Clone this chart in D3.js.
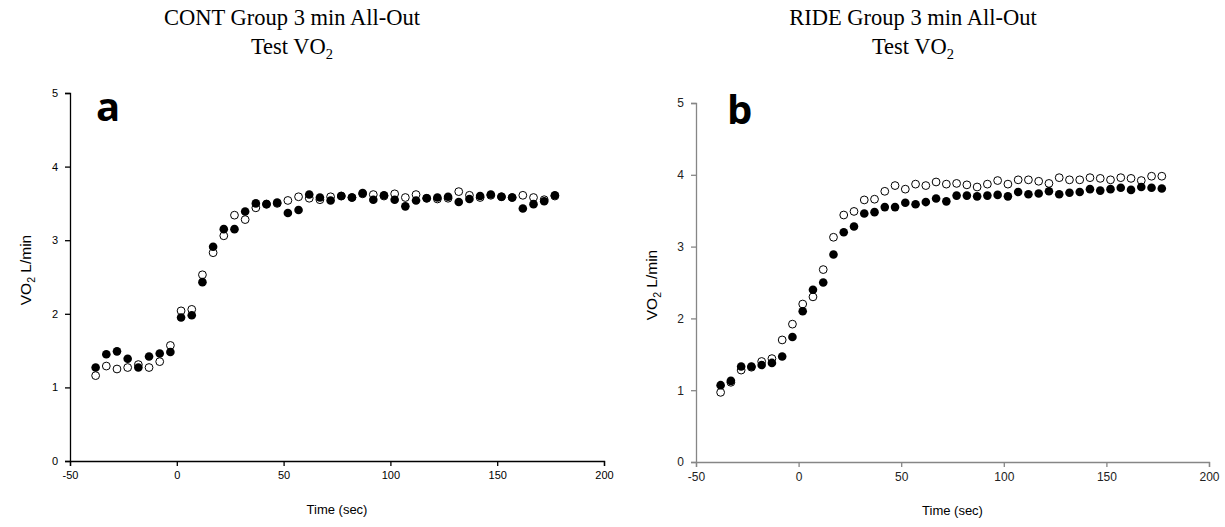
<!DOCTYPE html>
<html>
<head>
<meta charset="utf-8">
<script src="https://cdn.jsdelivr.net/npm/d3@7.9.0/dist/d3.min.js"></script>
<style>
  body { margin: 0; background: #fff; }
  svg { display: block; }
</style>
</head>
<body>
<div id="chart"></div>
<script>
// Data: time in seconds relative to test start
const times = [-38, -33, -28, -23, -18, -13, -8, -3, 2, 7, 12, 17, 22, 27, 32, 37, 42, 47, 52, 57, 62, 67,
  72, 77, 82, 87, 92, 97, 102, 107, 112, 117, 122, 127, 132, 137, 142, 147, 152, 157, 162, 167, 172, 177];

// CONT group, filled and open markers (VO2 L/min)
const contFilled = [1.27, 1.45, 1.49, 1.39, 1.27, 1.42, 1.46, 1.48, 1.95, 1.98, 2.43, 2.91, 3.15, 3.15, 3.39, 3.50,
  3.49, 3.51, 3.37, 3.41, 3.62, 3.58, 3.54, 3.60, 3.58, 3.64, 3.55, 3.61, 3.55, 3.46, 3.54, 3.57, 3.58, 3.59,
  3.52, 3.56, 3.60, 3.62, 3.59, 3.58, 3.43, 3.49, 3.53, 3.61];
const contOpen = [1.16, 1.29, 1.25, 1.27, 1.31, 1.27, 1.35, 1.57, 2.04, 2.06, 2.53, 2.83, 3.06, 3.34, 3.28, 3.44,
  3.49, 3.50, 3.54, 3.59, 3.57, 3.55, 3.59, 3.60, 3.58, 3.63, 3.62, 3.60, 3.63, 3.58, 3.62, 3.57, 3.56, 3.57,
  3.66, 3.61, 3.58, 3.61, 3.59, 3.58, 3.61, 3.58, 3.55, 3.60];

// RIDE group
const rideFilled = [1.07, 1.13, 1.33, 1.33, 1.35, 1.38, 1.47, 1.74, 2.10, 2.40, 2.50, 2.89, 3.20, 3.28, 3.46, 3.48,
  3.55, 3.55, 3.61, 3.59, 3.62, 3.67, 3.63, 3.71, 3.71, 3.70, 3.71, 3.72, 3.70, 3.76, 3.73, 3.74, 3.77, 3.73,
  3.75, 3.76, 3.80, 3.78, 3.80, 3.82, 3.79, 3.83, 3.82, 3.81];
const rideOpen = [0.97, 1.11, 1.28, 1.32, 1.40, 1.44, 1.70, 1.92, 2.20, 2.30, 2.68, 3.13, 3.44, 3.49, 3.65, 3.66,
  3.77, 3.85, 3.80, 3.87, 3.85, 3.90, 3.87, 3.88, 3.86, 3.83, 3.87, 3.92, 3.87, 3.93, 3.93, 3.91, 3.88, 3.96,
  3.93, 3.93, 3.96, 3.95, 3.93, 3.96, 3.95, 3.92, 3.98, 3.98];

const xTicks = [-50, 0, 50, 100, 150, 200];
const yTicks = [0, 1, 2, 3, 4, 5];

const width = 1225;
const height = 527;

const svg = d3.select("#chart")
  .append("svg")
  .attr("width", width)
  .attr("height", height);

/*
 * Draws one panel: title, axes, labels and both marker series
 */
function renderPanel(opts) {
  const x = d3.scaleLinear().domain([-50, 200]).range([opts.left, opts.right]);
  const y = d3.scaleLinear().domain([0, 5]).range([opts.bottom, opts.top]);

  const g = svg.append("g");

  // title, two lines, serif
  const serif = "'Liberation Serif', 'Times New Roman', serif";
  g.append("text")
    .attr("x", opts.titleX)
    .attr("y", 25)
    .attr("text-anchor", "middle")
    .style("font-family", serif)
    .style("font-size", "22.5px")
    .text(opts.title);
  const line2 = g.append("text")
    .attr("x", opts.titleX)
    .attr("y", 54)
    .attr("text-anchor", "middle")
    .style("font-family", serif)
    .style("font-size", "22.5px");
  line2.append("tspan").text("Test VO");
  line2.append("tspan").attr("dy", 5).style("font-size", "14.5px").text("2");

  // axes (plain hyphen for negatives, like the original)
  const fmt = d => String(d);
  const xAxis = d3.axisBottom(x).tickValues(xTicks).tickSize(5).tickPadding(5).tickFormat(fmt);
  const yAxis = d3.axisLeft(y).tickValues(yTicks).tickSize(5).tickPadding(7).tickFormat(fmt);

  const gx = g.append("g")
    .attr("transform", `translate(0,${opts.bottom})`)
    .call(xAxis);
  const gy = g.append("g")
    .attr("transform", `translate(${opts.left},0)`)
    .call(yAxis);

  [gx, gy].forEach(a => {
    a.select(".domain").attr("stroke", opts.axisColor).attr("stroke-width", 1.3);
    a.selectAll(".tick line").attr("stroke", opts.axisColor).attr("stroke-width", 1.3);
    a.selectAll(".tick text")
      .attr("fill", opts.labelColor)
      .style("font-family", "'Liberation Sans', Arial, sans-serif")
      .style("font-size", opts.tickFont);
  });

  // axis titles
  g.append("text")
    .attr("x", (opts.left + opts.right) / 2)
    .attr("y", opts.bottom + 53)
    .attr("text-anchor", "middle")
    .style("font-family", "'Liberation Sans', Arial, sans-serif")
    .style("font-size", "13px")
    .text("Time (sec)");

  const yl = g.append("text")
    .attr("transform", `translate(${opts.yLabelX},${opts.yLabelY}) rotate(-90)`)
    .attr("text-anchor", "middle")
    .style("font-family", "'Liberation Sans', Arial, sans-serif")
    .style("font-size", "15.5px");
  yl.append("tspan").text("VO");
  yl.append("tspan").attr("dy", 4).style("font-size", "10.5px").text("2");
  yl.append("tspan").attr("dy", -4).text(" L/min");

  // panel letter
  g.append("text")
    .attr("x", opts.letterX)
    .attr("y", opts.letterY)
    .style("font-family", "'Open Sans', sans-serif")
    .style("font-weight", "700")
    .style("font-size", "40px")
    .text(opts.letter);

  // markers: open first, filled on top
  g.selectAll(".open")
    .data(times.map((t, i) => ({ t, v: opts.open[i] })))
    .enter()
    .append("circle")
    .attr("class", "open")
    .attr("cx", d => x(d.t))
    .attr("cy", d => y(d.v))
    .attr("r", 3.9)
    .attr("fill", "#fff")
    .attr("stroke", "#000")
    .attr("stroke-width", 1);

  g.selectAll(".filled")
    .data(times.map((t, i) => ({ t, v: opts.filled[i] })))
    .enter()
    .append("circle")
    .attr("class", "filled")
    .attr("cx", d => x(d.t))
    .attr("cy", d => y(d.v))
    .attr("r", 4.3)
    .attr("fill", "#000");
}

renderPanel({
  left: 70, right: 604, top: 93, bottom: 461,
  title: "CONT Group 3 min All-Out", titleX: 292,
  axisColor: "#000", labelColor: "#000", tickFont: "11px",
  yLabelX: 31, yLabelY: 270, letter: "a", letterX: 96, letterY: 121,
  filled: contFilled, open: contOpen
});

renderPanel({
  left: 696, right: 1209, top: 103, bottom: 462,
  title: "RIDE Group 3 min All-Out", titleX: 913,
  axisColor: "#868686", labelColor: "#222", tickFont: "12px",
  yLabelX: 657, yLabelY: 285, letter: "b", letterX: 727, letterY: 124,
  filled: rideFilled, open: rideOpen
});
</script>
</body>
</html>
